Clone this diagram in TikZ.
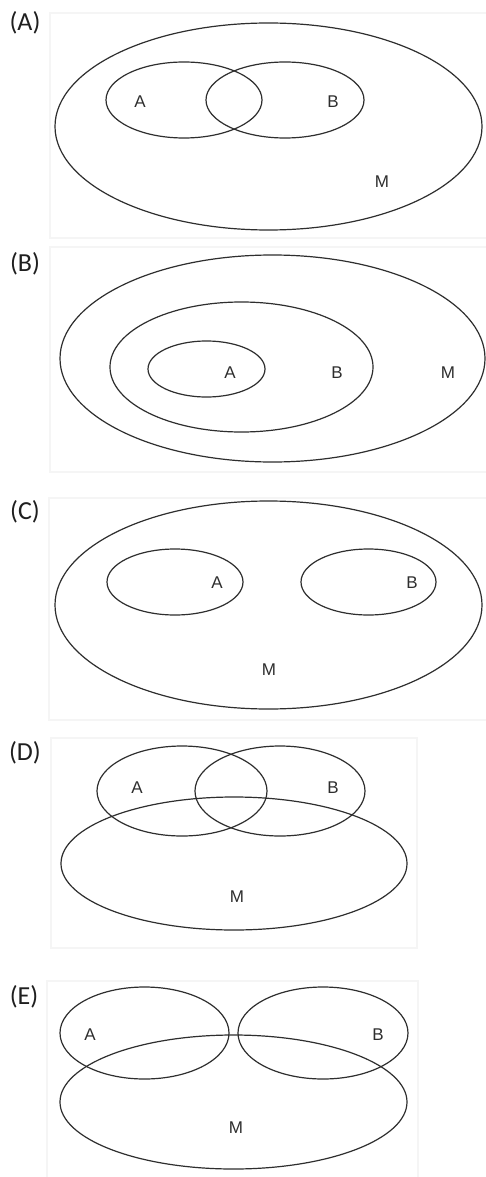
\documentclass[tikz,border=0pt]{standalone}
\usepackage{fontspec}
\setmainfont{Liberation Sans}
\newfontfamily\tagfont{Carlito}
\begin{document}
\begin{tikzpicture}[x=1pt,y=-1pt,
  setline/.style={draw=black!82, line width=1.2pt},
  panel/.style={draw=black!4, line width=1.5pt, fill=white},
  tag/.style={font=\tagfont\fontsize{26}{26}\selectfont, text=black!88},
  lbl/.style={font=\fontsize{17}{17}\selectfont, text=black!82}]
\useasboundingbox (0,0) rectangle (486,1177);

% ---------- (A) two overlapping sets inside M ----------
\node[tag] (tagA) at (25,23) {(A)};
\draw[panel] (50,13) rectangle (490,238);
\draw[setline] (268.5,126.5) ellipse [x radius=213.5pt, y radius=103.5pt];
\draw[setline] (184,100) ellipse [x radius=78pt, y radius=38pt];
\draw[setline] (285,100) ellipse [x radius=79pt, y radius=38pt];
\node[lbl] (a1) at (140,102) {A};
\node[lbl] (b1) at (333,102) {B};
\node[lbl] (m1) at (382,182) {M};

% ---------- (B) nested sets ----------
\node[tag] (tagB) at (25,264) {(B)};
\draw[panel] (50,247) rectangle (490,472);
\draw[setline] (272.5,358.5) ellipse [x radius=212.5pt, y radius=103.5pt];
\draw[setline] (241.5,367) ellipse [x radius=131.5pt, y radius=65pt];
\draw[setline] (206.5,369) ellipse [x radius=58.5pt, y radius=28pt];
\node[lbl] (a2) at (230,373) {A};
\node[lbl] (b2) at (337,373) {B};
\node[lbl] (m2) at (448,373) {M};

% ---------- (C) disjoint sets inside M ----------
\node[tag] (tagC) at (25,512) {(C)};
\draw[panel] (49,498) rectangle (490,720);
\draw[setline] (268.5,605) ellipse [x radius=213.5pt, y radius=104pt];
\draw[setline] (175,582) ellipse [x radius=68pt, y radius=33pt];
\draw[setline] (368.5,582) ellipse [x radius=67.5pt, y radius=33pt];
\node[lbl] (a3) at (217,583) {A};
\node[lbl] (b3) at (412,583) {B};
\node[lbl] (m3) at (269,670) {M};

% ---------- (D) A and B overlap each other and M ----------
\node[tag] (tagD) at (25,753) {(D)};
\draw[panel] (51,738) rectangle (417,948);
\draw[setline] (182,791) ellipse [x radius=85pt, y radius=45pt];
\draw[setline] (280,791) ellipse [x radius=85pt, y radius=45pt];
\draw[setline] (234,863.5) ellipse [x radius=173pt, y radius=66.5pt];
\node[lbl] (a4) at (137,788) {A};
\node[lbl] (b4) at (333,788) {B};
\node[lbl] (m4) at (237,897) {M};

% ---------- (E) A and B apart, both overlapping M ----------
\node[tag] (tagE) at (24,997) {(E)};
\draw[panel] (47,981) rectangle (418,1182);
\draw[setline] (144.5,1033) ellipse [x radius=84.5pt, y radius=46pt];
\draw[setline] (323,1033) ellipse [x radius=85pt, y radius=46pt];
\draw[setline] (233.5,1102) ellipse [x radius=173.5pt, y radius=67pt];
\node[lbl] (a5) at (90,1035) {A};
\node[lbl] (b5) at (378,1035) {B};
\node[lbl] (m5) at (236,1128) {M};
\end{tikzpicture}
\end{document}
